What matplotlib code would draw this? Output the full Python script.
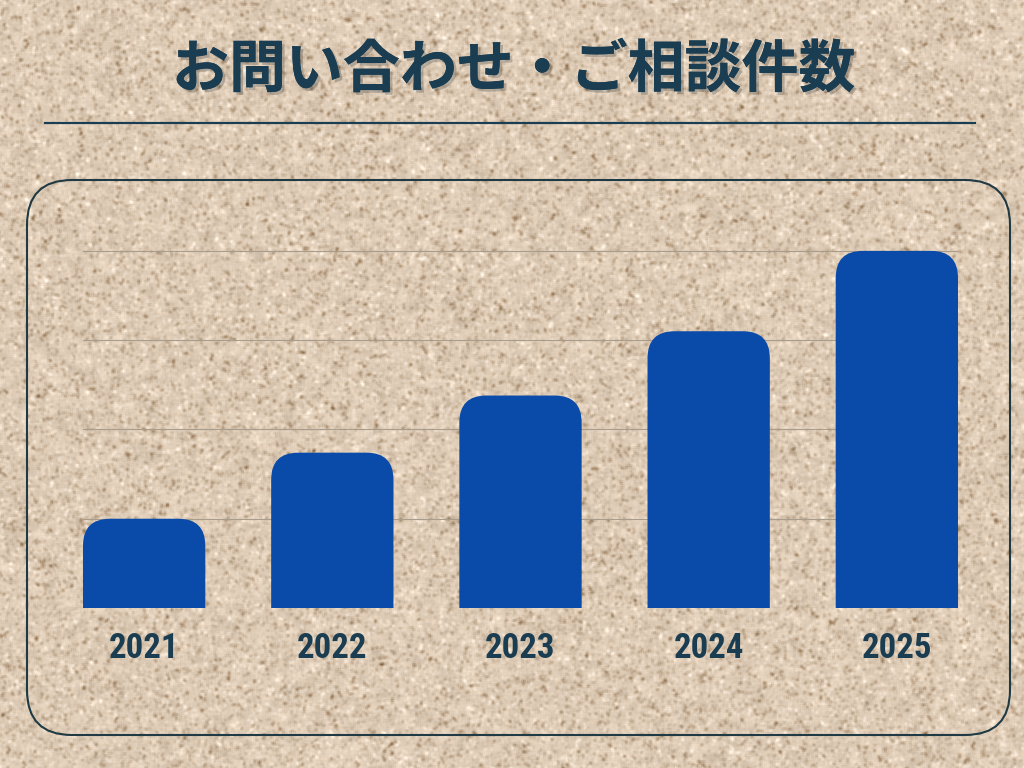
import numpy as np
import matplotlib.pyplot as plt
from matplotlib.patches import FancyBboxPatch
from matplotlib import font_manager
import matplotlib.patheffects as pe

plt.rcParams['font.family'] = ['Noto Sans CJK JP', 'DejaVu Sans']

# data
years = ['2021', '2022', '2023', '2024', '2025']
counts = [50, 87, 119, 155, 200]

title = 'お問い合わせ・ご相談件数'
navy = '#1b3d52'
bar_color = '#0a4aa8'

installed = {f.name for f in font_manager.fontManager.ttflist}
label_font = 'Roboto Condensed' if 'Roboto Condensed' in installed else 'Roboto'

fig = plt.figure(figsize=(10.24, 7.68), dpi=100)

# background layer in pixel coordinates
bg = fig.add_axes([0, 0, 1, 1], zorder=0)
bg.set_xlim(0, 1024)
bg.set_ylim(768, 0)
bg.axis('off')

# cork-like texture (decoration only)
rng = np.random.default_rng(3)
def blur(a, k):
    out = np.zeros_like(a)
    for dy in range(-k, k + 1):
        for dx in range(-k, k + 1):
            out += np.roll(np.roll(a, dy, 0), dx, 1)
    return out / (2 * k + 1) ** 2
n1 = blur(rng.standard_normal((768, 1024)), 1)
n1 /= n1.std()
n2 = blur(rng.standard_normal((768, 1024)), 4)
n2 /= n2.std()
dark = blur(np.clip(-n1 - 0.6, 0, None), 1)    # soft darker flecks
light = blur(np.clip(n1 - 0.9, 0, None), 1)    # soft light specks
base = np.array([223, 205, 184]) / 255
img = (base[None, None, :]
       - dark[:, :, None] * np.array([34, 40, 46])[None, None, :] / 255
       + light[:, :, None] * np.array([22, 24, 26])[None, None, :] / 255
       + n2[:, :, None] * 5 / 255)
img = np.clip(img, 0, 1)
bg.imshow(img, extent=(0, 1024, 768, 0), aspect='auto', zorder=0)

# title
bg.text(514, 70, title, ha='center', va='center', fontsize=41, fontweight='bold',
        color=navy, zorder=3,
        path_effects=[pe.withSimplePatchShadow(offset=(2, -2), alpha=0.22), pe.Normal()])
bg.plot([45, 975], [123, 123], color=navy, lw=1.6, zorder=3)

# frame
frame = FancyBboxPatch((27, 180), 983, 555, boxstyle='round,pad=0,rounding_size=45',
                       fill=False, edgecolor='#1f3a44', lw=1.5, zorder=3)
bg.add_patch(frame)

# chart
ax = fig.add_axes([83 / 1024, 0.2083, 875 / 1024, 375 / 768], zorder=2)
ax.patch.set_alpha(0)
bars = ax.bar(range(len(years)), counts, width=0.65, color=bar_color)
ax.set_xlim(-0.325, len(years) - 1 + 0.325)
ax.set_ylim(0, 210)
ax.set_yticks([0, 50, 100, 150, 200])
ax.grid(axis='y', color='#a89c8c', lw=0.8)
ax.set_axisbelow(True)
for s in ax.spines.values():
    s.set_visible(False)
ax.tick_params(left=False, bottom=False, labelleft=False)
ax.set_xticks(range(len(years)))
lsize = 25 if label_font == 'Roboto Condensed' else 23
ax.set_xticklabels(years, fontsize=lsize, fontweight='bold', color=navy, family=label_font)
ax.tick_params(axis='x', pad=14)

# rounded tops
fig.canvas.draw()
p0 = ax.transData.transform((0, 0))
p1 = ax.transData.transform((1, 1))
r_px = 27
rx = r_px / (p1[0] - p0[0])
ry = r_px / (p1[1] - p0[1])
for b in bars:
    x, w, h = b.get_x(), b.get_width(), b.get_height()
    b.remove()
    rb = FancyBboxPatch((x, -ry * 2), w, h + ry * 2,
                        boxstyle=f'round,pad=0,rounding_size={rx}',
                        mutation_aspect=ry / rx, facecolor=bar_color,
                        edgecolor='none', zorder=2)
    ax.add_patch(rb)

fig.savefig('out.png', dpi=100)
